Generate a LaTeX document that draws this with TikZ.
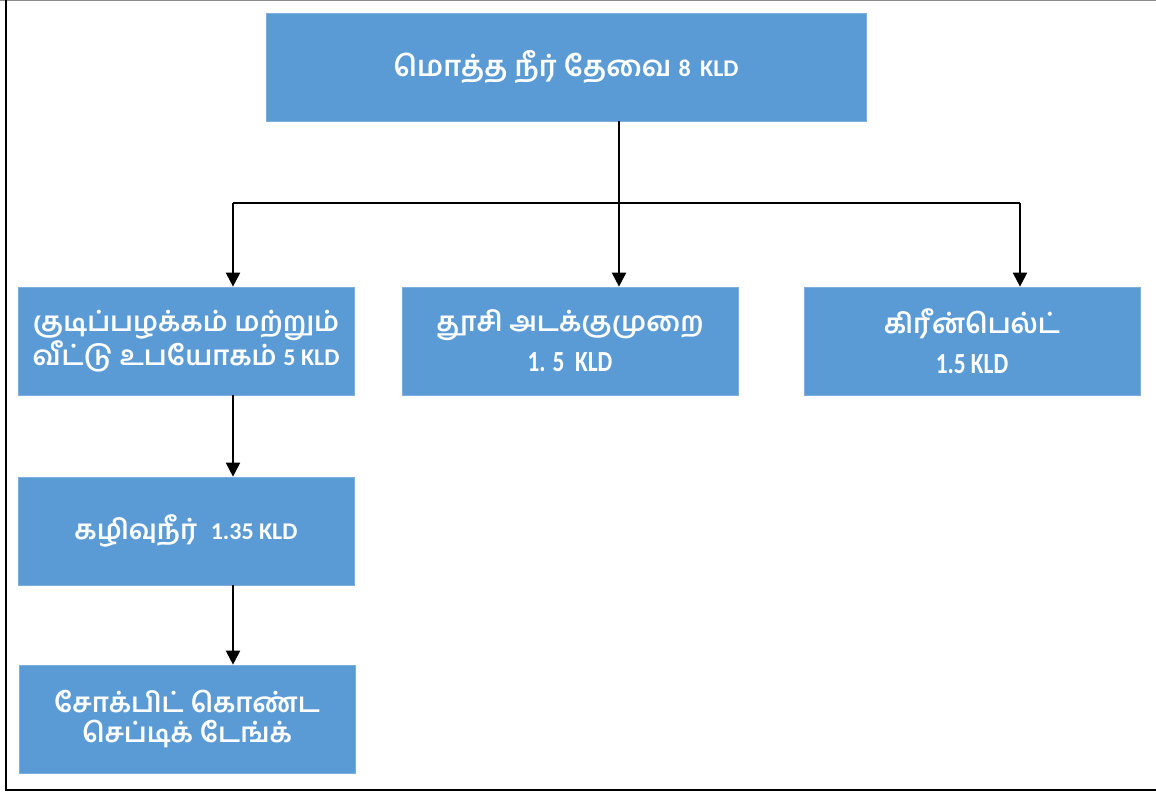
\documentclass[tikz,border=0pt]{standalone}
\usepackage{fontspec}
\setmainfont[Script=Tamil]{Hind Madurai}
\newfontfamily\lat{Carlito}
\usetikzlibrary{arrows.meta}
\definecolor{boxblue}{HTML}{5B9BD5}
\tikzset{
  box/.style={fill=boxblue, draw=boxblue!80!white, line width=0.5pt, text=white, font=\bfseries\fontsize{20.5}{24}\selectfont,
    minimum width=252pt, minimum height=81pt, align=center, inner sep=2pt},
  arr/.style={line width=1.5pt, -{Triangle[length=10.5pt,width=10.5pt]}},
  ln/.style={line width=1.1pt},
}
\newcommand{\kld}[1]{{\lat\bfseries\fontsize{18}{20}\selectfont #1}}
\newcommand{\kldt}[1]{{\lat\bfseries\fontsize{17.5}{20}\selectfont\scalebox{1}[1.25]{#1}}}
\begin{document}
\begin{tikzpicture}[x=0.75pt,y=-0.75pt]
\useasboundingbox (0,0) rectangle (1156,792);
\draw[black!45, line width=0.75pt] (0,0.4) -- (1156,0.4);
\draw[black, line width=2pt] (6,0) -- (6,790) -- (1156,790);
\node[box, minimum width=450pt, font=\bfseries\fontsize{21.5}{24}\selectfont] (top) at (566,67) {மொத்த நீர் தேவை \kld{8\, KLD}};
\node[box] (l1) at (186,341) {குடிப்பழக்கம் மற்றும்\\[-1pt]வீட்டு உபயோகம் \kld{5 KLD}};
\node[box] (mid) at (570,341) {தூசி அடக்குமுறை\\[6pt]\kldt{1. 5 \ KLD}};
\node[box] (rt) at (972,341) {கிரீன்பெல்ட்\\[6pt]\kldt{1.5 KLD}};
\node[box] (l2) at (186,531) {கழிவுநீர் \ \kld{1.35 KLD}};
\node[box] (l3) at (187,719) {சோக்பிட் கொண்ட\\[-1pt]செப்டிக் டேங்க்};
\coordinate (j) at (619,203);
\coordinate (jl) at (233,203);
\coordinate (jr) at (1020,203);
\draw[ln] (jl) -- (jr);
\draw[ln] (top.south -| j) -- (j);
\draw[arr] (j) -- (j |- mid.north);
\draw[arr] (jl) -- (jl |- l1.north);
\draw[arr] (jr) -- (jr |- rt.north);
\draw[arr] (jl |- l1.south) -- (jl |- l2.north);
\draw[arr] (jl |- l2.south) -- (jl |- l3.north);
\end{tikzpicture}
\end{document}
